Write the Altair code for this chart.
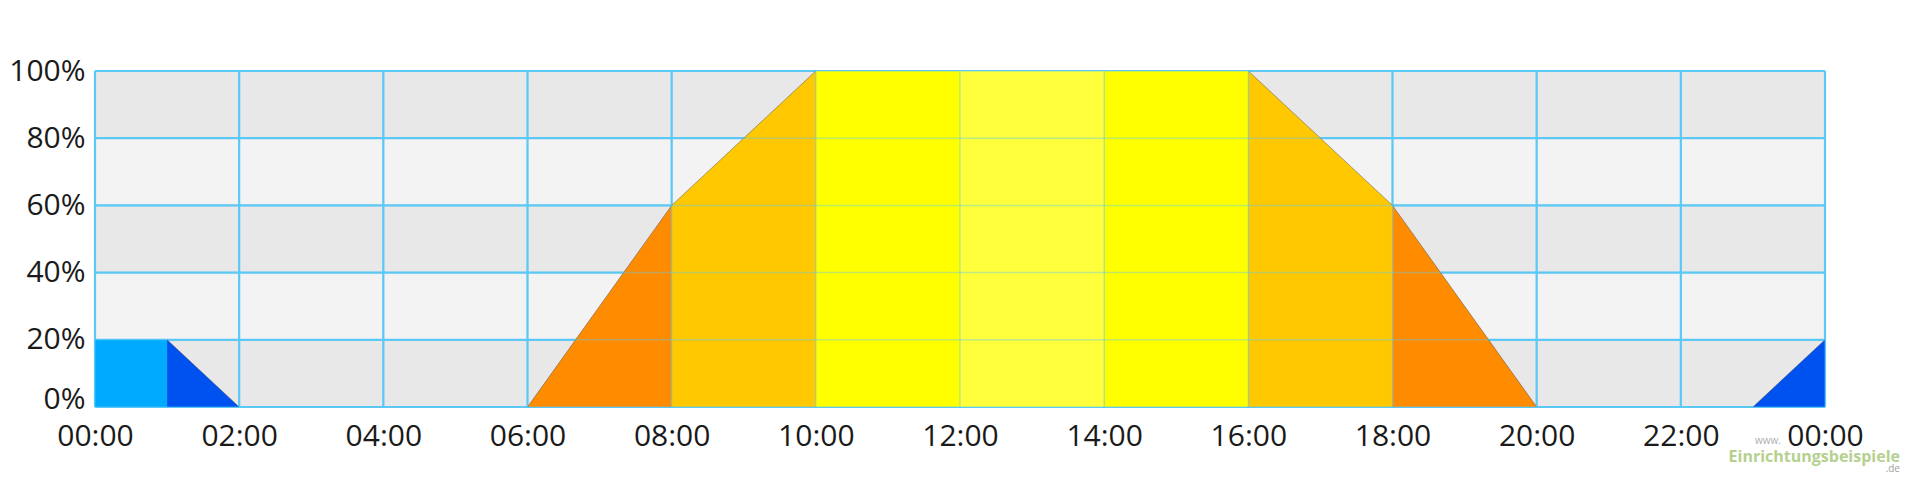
import altair as alt
import pandas as pd

# ---- data ----
segments = ["s0", "s1", "s2", "s3", "s4", "s5", "s6", "s7", "s8", "s9"]
seg_x0 = [0, 1, 6, 8, 10, 12, 14, 16, 18, 23]
seg_x1 = [1, 2, 8, 10, 12, 14, 16, 18, 20, 24]
seg_y0 = [20, 20, 0, 60, 100, 100, 100, 100, 60, 0]
seg_y1 = [20, 0, 60, 100, 100, 100, 100, 60, 0, 20]
seg_colors = ["#00aaff", "#0052f0", "#ff8c00", "#ffc800", "#ffff00",
              "#ffff3c", "#ffff00", "#ffc800", "#ff8c00", "#0052f0"]
slanted = [False, True, True, True, False, False, False, True, True, True]

band_lo = [0, 20, 40, 60, 80]
band_hi = [20, 40, 60, 80, 100]
band_col = ["#e8e8e8", "#f3f3f3", "#e8e8e8", "#f3f3f3", "#e8e8e8"]

x_ticks = list(range(0, 25, 2))
y_ticks = [0, 20, 40, 60, 80, 100]

GRID = "#5cc8f6"

rows = []
for s, a, b, ya, yb in zip(segments, seg_x0, seg_x1, seg_y0, seg_y1):
    rows.append({"seg": s, "x": a, "y": ya})
    rows.append({"seg": s, "x": b, "y": yb})
area_df = pd.DataFrame(rows)
edge_df = area_df[area_df["seg"].isin([s for s, k in zip(segments, slanted) if k])]

bands_df = pd.DataFrame({"lo": band_lo, "hi": band_hi, "c": band_col})
vx_df = pd.DataFrame({"x": x_ticks})
hy_df = pd.DataFrame({"y": y_ticks})

xscale = alt.Scale(domain=[0, 24], nice=False, zero=False)
yscale = alt.Scale(domain=[0, 100], nice=False)

xaxis = alt.Axis(values=x_ticks, grid=False, domain=False, ticks=False,
                 labelExpr="((datum.value % 24) < 10 ? '0' : '') + (datum.value % 24) + ':00'",
                 labelFont="Open Sans", labelFontSize=30, labelColor="#1a1a1a",
                 labelPadding=14, labelFlush=False, labelOverlap=False, title=None)
yaxis = alt.Axis(values=y_ticks, grid=False, domain=False, ticks=False,
                 labelExpr="datum.value + '%'",
                 labelOffset={"expr": "datum.value == 0 ? -8 : 0"},
                 labelFont="Open Sans", labelFontSize=30, labelColor="#1a1a1a",
                 labelPadding=10, labelFlush=False, labelOverlap=False, title=None)

bands = alt.Chart(bands_df).mark_rect().encode(
    x=alt.value(0), x2=alt.value(1730),
    y=alt.Y("lo:Q", scale=yscale, axis=yaxis), y2="hi:Q",
    color=alt.Color("c:N", scale=None, legend=None),
)

vgrid = alt.Chart(vx_df).mark_rule(color=GRID, strokeWidth=2.2).encode(
    x=alt.X("x:Q", scale=xscale, axis=xaxis))
hgrid = alt.Chart(hy_df).mark_rule(color=GRID, strokeWidth=2.2).encode(
    y=alt.Y("y:Q", scale=yscale))

area = alt.Chart(area_df).mark_area(interpolate="linear").encode(
    x=alt.X("x:Q", scale=xscale),
    y=alt.Y("y:Q", scale=yscale, stack=None),
    color=alt.Color("seg:N", scale=alt.Scale(domain=segments, range=seg_colors), legend=None),
    detail="seg:N",
)

edges = alt.Chart(edge_df).mark_line(color="#444444", strokeWidth=1, opacity=0.45).encode(
    x=alt.X("x:Q", scale=xscale),
    y=alt.Y("y:Q", scale=yscale),
    detail="seg:N",
)

vgrid2 = alt.Chart(vx_df).mark_rule(color=GRID, strokeWidth=1.5, opacity=0.4).encode(
    x=alt.X("x:Q", scale=xscale))
hgrid2 = alt.Chart(hy_df).mark_rule(color=GRID, strokeWidth=1.5, opacity=0.4).encode(
    y=alt.Y("y:Q", scale=yscale))

wm1 = alt.Chart(pd.DataFrame({"t": ["Einrichtungsbeispiele"]})).mark_text(
    font="Open Sans", fontSize=16, fontWeight="bold", color="#a9c97c", align="right", opacity=0.85
).encode(text="t:N", x=alt.value(1805), y=alt.value(386))
wm2 = alt.Chart(pd.DataFrame({"t": ["www."]})).mark_text(
    font="Open Sans", fontSize=10, color="#9a9a9a", align="left", opacity=0.8
).encode(text="t:N", x=alt.value(1660), y=alt.value(370))
wm3 = alt.Chart(pd.DataFrame({"t": [".de"]})).mark_text(
    font="Open Sans", fontSize=10, color="#8a8a8a", align="right", opacity=0.8
).encode(text="t:N", x=alt.value(1805), y=alt.value(398))

chart = alt.layer(bands, vgrid, hgrid, area, edges, vgrid2, hgrid2, wm1, wm2, wm3).properties(
    width=1730, height=336,
    autosize=alt.AutoSizeParams(type="none"),
    padding={"left": 87, "top": 63, "right": 85, "bottom": 70},
).configure_view(stroke=GRID, strokeWidth=2).configure(background="white")

chart.save("out.html", embed_options={"renderer": "svg", "actions": False})
